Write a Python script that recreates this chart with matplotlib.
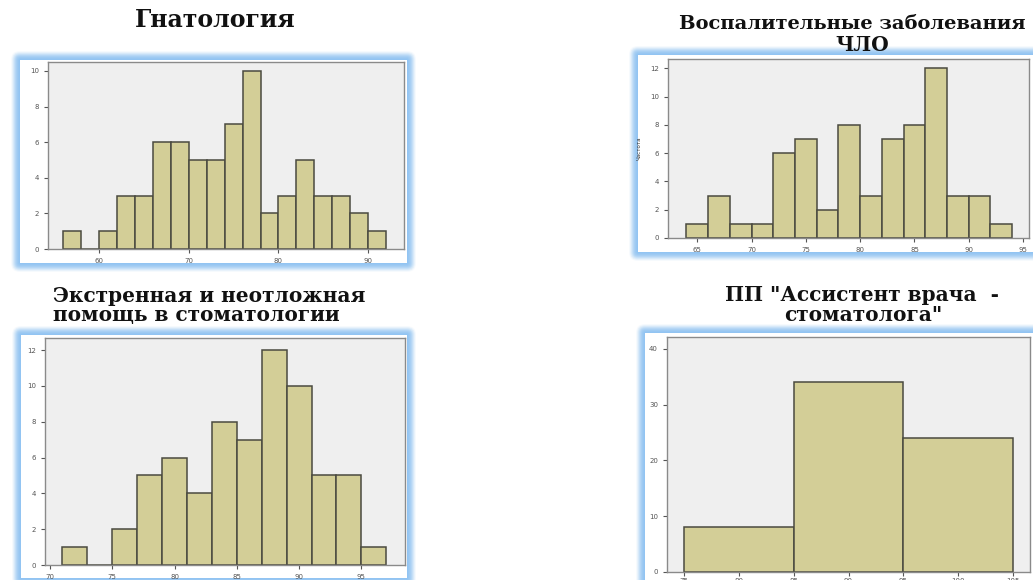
import matplotlib
matplotlib.use('Agg')
import matplotlib.pyplot as plt
from matplotlib.patches import FancyBboxPatch
import numpy as np

# --- data ---
gnat_title = ['Гнатология']
vosp_title = ['Воспалительные заболевания', 'ЧЛО']
ekstr_title = ['Экстренная и неотложная', 'помощь в стоматологии']
pp_title = ['ПП "Ассистент врача  -', 'стоматолога"']

gnat_edges = np.arange(56, 93, 2)
gnat_counts = [1, 0, 1, 3, 3, 6, 6, 5, 5, 7, 10, 2, 3, 5, 3, 3, 2, 1]
gnat_xticks = [60, 70, 80, 90]
gnat_yticks = [0, 2, 4, 6, 8, 10]

vosp_edges = np.arange(64, 95, 2)
vosp_counts = [1, 3, 1, 1, 6, 7, 2, 8, 3, 7, 8, 12, 3, 3, 1]
vosp_xticks = [65, 70, 75, 80, 85, 90, 95]
vosp_yticks = [0, 2, 4, 6, 8, 10, 12]

ekstr_edges = np.arange(71, 98, 2)
ekstr_counts = [1, 0, 2, 5, 6, 4, 8, 7, 12, 10, 5, 5, 1]
ekstr_xticks = [70, 75, 80, 85, 90, 95]
ekstr_yticks = [0, 2, 4, 6, 8, 10, 12]

pp_edges = np.array([75, 85, 95, 105])
pp_counts = [8, 34, 24]
pp_xticks = [75, 80, 85, 90, 95, 100, 105]
pp_yticks = [0, 10, 20, 30, 40]

W, H = 1033, 580
fig = plt.figure(figsize=(W / 100, H / 100), dpi=100)
fig.patch.set_facecolor('white')

# background layer in pixel coordinates for the glowing frames
bg = fig.add_axes([0, 0, 1, 1])
bg.set_xlim(0, W)
bg.set_ylim(H, 0)
bg.axis('off')

frames = [(20, 60, 407, 263), (638, 55, 1040, 252),
          (21, 335, 407, 578), (645, 333, 1040, 585)]
for (x0, y0, x1, y1) in frames:
    for k, a in zip(range(9, 0, -1), np.linspace(0.08, 0.5, 9)):
        bg.add_patch(FancyBboxPatch((x0, y0), x1 - x0, y1 - y0,
                                    boxstyle='round,pad=%d' % k,
                                    facecolor='#8fc3f2', edgecolor='none',
                                    alpha=a))
    bg.add_patch(FancyBboxPatch((x0, y0), x1 - x0, y1 - y0,
                                boxstyle='square,pad=0',
                                facecolor='white', edgecolor='none'))

tfont = dict(family='DejaVu Serif', fontweight='bold', fontsize=14.5,
             color='#111111', va='baseline')
bg.text(215, 27, gnat_title[0], ha='center',
        **{**tfont, 'fontsize': 17})
bg.text(852, 29, vosp_title[0], ha='center',
        **{**tfont, 'fontsize': 14})
bg.text(862, 51, vosp_title[1], ha='center', **tfont)
bg.text(53, 302, ekstr_title[0], ha='left', **tfont)
bg.text(53, 321, ekstr_title[1], ha='left', **tfont)
bg.text(862, 301, pp_title[0], ha='center', **tfont)
bg.text(863, 321, pp_title[1], ha='center', **tfont)


def px_axes(x0, y0, x1, y1):
    return fig.add_axes([x0 / W, 1 - y1 / H, (x1 - x0) / W, (y1 - y0) / H])


def draw_hist(ax, edges, counts, xticks, yticks, xlim, ylim):
    ax.set_facecolor('#efefef')
    ax.bar(edges[:-1], counts, width=np.diff(edges), align='edge',
           color='#d3ce97', edgecolor='#4a4a40', linewidth=1.1)
    ax.set_xlim(*xlim)
    ax.set_ylim(*ylim)
    ax.set_xticks(xticks)
    ax.set_yticks(yticks)
    ax.tick_params(labelsize=5, colors='#555555', length=3, width=0.8)
    for s in ax.spines.values():
        s.set_color('#8a8a8a')
        s.set_linewidth(1.0)


ax1 = px_axes(48, 62, 404, 249)
draw_hist(ax1, gnat_edges, gnat_counts, gnat_xticks, gnat_yticks,
          (54.3, 94.0), (0, 10.5))

ax2 = px_axes(668, 59, 1029, 238)
draw_hist(ax2, vosp_edges, vosp_counts, vosp_xticks, vosp_yticks,
          (62.3, 95.55), (0, 12.66))
ax2.set_ylabel('Частота', fontsize=4, color='#333333', labelpad=6)

ax3 = px_axes(45, 338, 405, 565)
draw_hist(ax3, ekstr_edges, ekstr_counts, ekstr_xticks, ekstr_yticks,
          (69.6, 98.5), (0, 12.67))

ax4 = px_axes(667, 337, 1030, 572)
draw_hist(ax4, pp_edges, pp_counts, pp_xticks, pp_yticks,
          (73.45, 106.55), (0, 42.1))
ax4.tick_params(axis='x', pad=1.5)

fig.savefig('out.png', dpi=100)
